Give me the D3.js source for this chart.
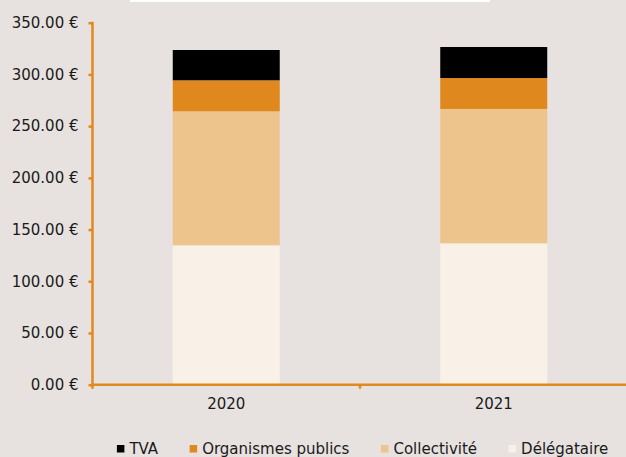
<!DOCTYPE html>
<html>
<head>
<meta charset="utf-8">
<script src="https://cdn.jsdelivr.net/npm/d3@7"></script>
<style>
  html, body { margin: 0; padding: 0; background: #e7e2e0; }
  svg { display: block; }
  text { font-family: "DejaVu Sans", sans-serif; fill: #1a1a1a; }
</style>
</head>
<body>
<svg id="chart" width="626" height="457"></svg>
<script>
// Years on the x axis
const years = ["2020", "2021"];

// Price breakdown per year (€), bottom to top of each stack
const delegataire = [134.8, 136.7];
const collectivite = [129.5, 129.9];
const organismes = [30.0, 29.9];
const tva = [29.3, 30.0];

const seriesNames = ["Délégataire", "Collectivité", "Organismes publics", "TVA"];
const seriesColors = ["#f9f1e7", "#eec48d", "#df881d", "#000000"];

// Legend order (left to right)
const legendOrder = ["TVA", "Organismes publics", "Collectivité", "Délégataire"];

const yTicks = [0, 50, 100, 150, 200, 250, 300, 350];

const rows = years.map((y, i) => ({
  year: y,
  "Délégataire": delegataire[i],
  "Collectivité": collectivite[i],
  "Organismes publics": organismes[i],
  "TVA": tva[i]
}));

const svg = d3.select("#chart");
const W = 626, H = 457;
const margin = { left: 92.5, right: -1.5, top: 22.7, bottom: H - 384.7 };
const fontFamily = "'DejaVu Sans', sans-serif";

// thin white strip along the top edge
svg.append("rect").attr("x", 130).attr("y", 0).attr("width", 360).attr("height", 2).attr("fill", "#ffffff");

const x = d3.scaleBand()
  .domain(years)
  .range([margin.left, W - margin.right])
  .paddingInner(0.6)
  .paddingOuter(0.3);

const y = d3.scaleLinear()
  .domain([0, 350])
  .range([H - margin.bottom, margin.top]);

const color = d3.scaleOrdinal().domain(seriesNames).range(seriesColors);

const stacked = d3.stack().keys(seriesNames)(rows);

svg.append("g")
  .selectAll("g")
  .data(stacked)
  .join("g")
  .attr("fill", d => color(d.key))
  .selectAll("rect")
  .data(d => d)
  .join("rect")
  .attr("x", d => x(d.data.year))
  .attr("width", x.bandwidth())
  .attr("y", d => y(d[1]))
  .attr("height", d => y(d[0]) - y(d[1]));

const axisColor = "#e0891e";

// y axis
const yAxis = svg.append("g")
  .attr("transform", `translate(${margin.left},0)`)
  .call(d3.axisLeft(y).tickValues(yTicks).tickSize(4).tickPadding(10).tickFormat(v => v.toFixed(2) + " €"));
yAxis.select(".domain").remove();
yAxis.selectAll(".tick line").attr("stroke", axisColor).attr("stroke-width", 2.5);
yAxis.selectAll(".tick text").attr("font-size", 15).attr("fill", "#1a1a1a").attr("font-family", fontFamily);
yAxis.append("line")
  .attr("x1", 0).attr("x2", 0)
  .attr("y1", y(350) - 1).attr("y2", y(0) + 4)
  .attr("stroke", axisColor).attr("stroke-width", 2.5);

// x axis
const xAxis = svg.append("g").attr("transform", `translate(0,${y(0)})`);
xAxis.append("line")
  .attr("x1", margin.left).attr("x2", W)
  .attr("stroke", axisColor).attr("stroke-width", 2.5);
// category separators
const step = x.step();
const seps = years.slice(1).map((d, i) => margin.left + step * (i + 1));
xAxis.selectAll("line.sep").data(seps).join("line").attr("class", "sep")
  .attr("x1", d => d).attr("x2", d => d).attr("y1", 0).attr("y2", 4)
  .attr("stroke", axisColor).attr("stroke-width", 2.5);
xAxis.selectAll("text").data(years).join("text")
  .attr("x", d => x(d) + x.bandwidth() / 2)
  .attr("y", 24.5)
  .attr("text-anchor", "middle")
  .attr("font-size", 15)
  .text(d => d);

// legend
const legend = svg.append("g").attr("transform", "translate(0,453.5)");
const items = legend.selectAll("g").data(legendOrder).join("g");
items.append("rect")
  .attr("width", 7.5).attr("height", 7.5).attr("y", -8.5)
  .attr("fill", d => color(d));
items.append("text")
  .attr("x", 12.5)
  .attr("font-size", 15)
  .text(d => d);
let widths = [];
items.each(function() { widths.push(this.querySelector("text").getComputedTextLength() + 12.5); });
const gap = 31.5;
const total = d3.sum(widths) + gap * (widths.length - 1);
let cx = 362.6 - total / 2;
items.attr("transform", (d, i) => {
  const t = `translate(${cx},0)`;
  cx += widths[i] + gap;
  return t;
});
</script>
</body>
</html>
